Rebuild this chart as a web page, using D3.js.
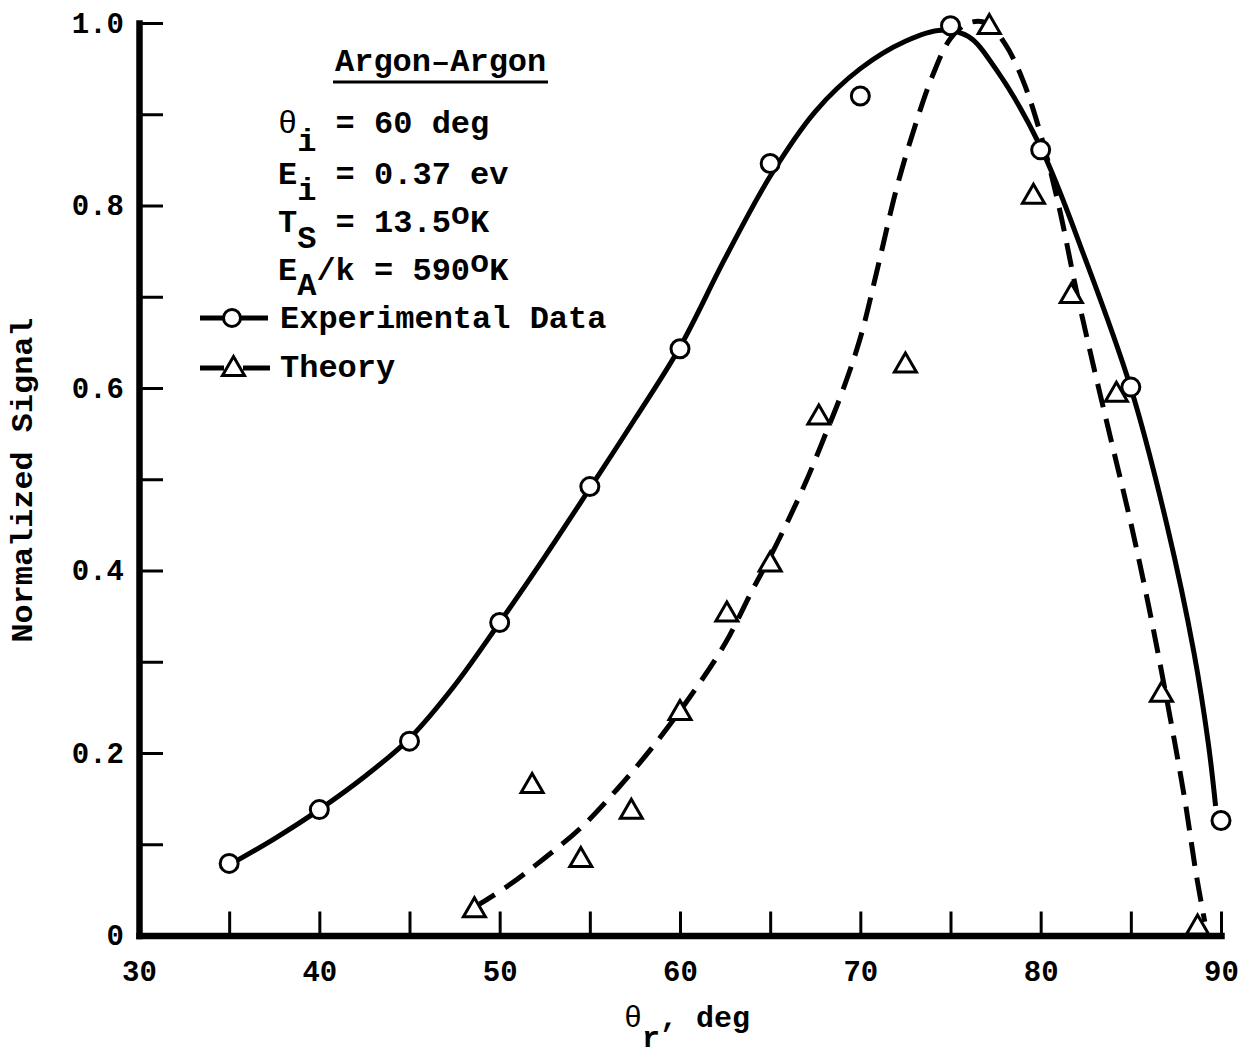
<!DOCTYPE html>
<html><head><meta charset="utf-8">
<script src="https://cdn.jsdelivr.net/npm/d3@7"></script>
<style>body{margin:0;background:#fff}svg{display:block}</style>
</head><body>
<svg id="c" width="1258" height="1056"></svg>
<script>
// ---- data ----
const expTheta  = [35, 40, 45, 50, 55, 60, 65, 70, 75, 80, 85, 90];
const expSignal = [0.079, 0.138, 0.213, 0.343, 0.492, 0.643, 0.846, 0.920, 0.997, 0.861, 0.601, 0.126];

const thTheta  = [48.6, 51.8, 54.5, 57.3, 60.0, 62.6, 65.0, 67.7, 72.5, 77.15, 79.6, 81.7, 84.2, 86.7, 88.7];
const thSignal = [0.031, 0.167, 0.086, 0.139, 0.247, 0.355, 0.410, 0.571, 0.628, 0.999, 0.813, 0.704, 0.596, 0.267, 0.012];

// hand-drawn fitted curve through the experimental data (solid)
const solidTheta  = [35.15, 37.5, 40, 42.5, 45, 47.5, 50, 52.5, 55, 57.5, 60, 62.5, 65, 67.5, 70, 72.5, 74.5, 76, 77.5, 80, 82.5, 85, 87, 88.5, 89.3, 89.7];
const solidSignal = [0.079, 0.106, 0.138, 0.174, 0.216, 0.274, 0.343, 0.415, 0.490, 0.566, 0.645, 0.742, 0.832, 0.903, 0.950, 0.980, 0.992, 0.985, 0.950, 0.864, 0.740, 0.600, 0.450, 0.310, 0.210, 0.142];

// hand-drawn theory curve (dashed)
const dashTheta  = [48.6, 50.5, 52.5, 54.5, 56.5, 58.5, 60.5, 62.5, 64, 65, 66, 67, 68, 69, 70, 71, 72, 73, 74, 75, 76, 77, 78, 79, 80, 81, 82, 83, 84, 85, 86, 87, 88, 88.6, 89.1];
const dashSignal = [0.031, 0.055, 0.085, 0.118, 0.160, 0.207, 0.260, 0.320, 0.378, 0.415, 0.455, 0.498, 0.546, 0.596, 0.655, 0.735, 0.818, 0.885, 0.942, 0.983, 1.000, 1.000, 0.978, 0.938, 0.878, 0.800, 0.705, 0.618, 0.535, 0.452, 0.360, 0.258, 0.148, 0.070, 0.015];

const xTicks = [30, 35, 40, 45, 50, 55, 60, 65, 70, 75, 80, 85, 90];
const xTickLabels = ["30", "", "40", "", "50", "", "60", "", "70", "", "80", "", "90"];
const yTicks = [0, 0.1, 0.2, 0.3, 0.4, 0.5, 0.6, 0.7, 0.8, 0.9, 1.0];
const yTickLabels = ["0", "", "0.2", "", "0.4", "", "0.6", "", "0.8", "", "1.0"];

// ---- drawing ----
const FONT = "'Liberation Mono','Courier New',monospace";
const svg = d3.select('#c');
svg.append('rect').attr('width', 1258).attr('height', 1056).attr('fill', '#fff');

const x = d3.scaleLinear().domain([30, 90]).range([139, 1221]);
const y = d3.scaleLinear().domain([0, 1]).range([935.5, 23]);

// y axis
const gy = svg.append('g').attr('transform', `translate(${x(30)},0)`)
  .call(d3.axisLeft(y).tickValues(yTicks).tickSize(-24).tickSizeOuter(0).tickPadding(15)
    .tickFormat((d, i) => yTickLabels[i]));
gy.select('.domain').attr('stroke', '#000').attr('stroke-width', 6.5).attr('stroke-linecap', 'square');
gy.selectAll('.tick line').attr('stroke', '#000').attr('stroke-width', 3);
gy.selectAll('.tick text').attr('font-family', FONT).attr('font-weight', 'bold')
  .attr('font-size', 29).attr('fill', '#000');

// x axis
const gx = svg.append('g').attr('transform', `translate(0,${y(0)})`)
  .call(d3.axisBottom(x).tickValues(xTicks).tickSize(-24).tickSizeOuter(0).tickPadding(25)
    .tickFormat((d, i) => xTickLabels[i]));
gx.select('.domain').attr('stroke', '#000').attr('stroke-width', 6.5).attr('stroke-linecap', 'square');
gx.selectAll('.tick line').attr('stroke', '#000').attr('stroke-width', 3);
gx.selectAll('.tick text').attr('font-family', FONT).attr('font-weight', 'bold')
  .attr('font-size', 29).attr('fill', '#000');

// axis titles
svg.append('text')
  .attr('transform', `translate(32,480) rotate(-90)`)
  .attr('text-anchor', 'middle')
  .attr('font-family', FONT).attr('font-weight', 'bold').attr('font-size', 30)
  .attr('textLength', 325).attr('lengthAdjust', 'spacingAndGlyphs')
  .text('Normalized Signal');

const xt = svg.append('text').attr('x', 624).attr('y', 1027)
  .attr('font-family', FONT).attr('font-weight', 'bold').attr('font-size', 30);
xt.append('tspan').attr('font-weight', 'normal').text('θ');
xt.append('tspan').attr('dy', 20).text('r');
xt.append('tspan').attr('dy', -20).text(', deg');

// curves
const lineGen = d3.line().x(d => x(d[0])).y(d => y(d[1])).curve(d3.curveCatmullRom.alpha(0.5));
const solidPts = solidTheta.map((t, i) => [t, solidSignal[i]]);
const dashPts = dashTheta.map((t, i) => [t, dashSignal[i]]);

svg.append('path').attr('d', lineGen(dashPts)).attr('fill', 'none')
  .attr('stroke', '#000').attr('stroke-width', 5).attr('stroke-dasharray', '24,12');
svg.append('path').attr('d', lineGen(solidPts)).attr('fill', 'none')
  .attr('stroke', '#000').attr('stroke-width', 5);

// markers
const triPath = (cx, cy) => `M${cx},${cy - 9.5}L${cx + 11},${cy + 9.5}L${cx - 11},${cy + 9.5}Z`;
svg.append('g').selectAll('path').data(thTheta.map((t, i) => [t, thSignal[i]])).join('path')
  .attr('d', d => triPath(x(d[0]), y(d[1])))
  .attr('fill', '#fff').attr('stroke', '#000').attr('stroke-width', 3).attr('stroke-linejoin', 'miter');
svg.append('g').selectAll('circle').data(expTheta.map((t, i) => [t, expSignal[i]])).join('circle')
  .attr('cx', d => x(d[0])).attr('cy', d => y(d[1])).attr('r', 9)
  .attr('fill', '#fff').attr('stroke', '#000').attr('stroke-width', 3);

// annotation block
const ann = svg.append('g').attr('font-family', FONT).attr('font-weight', 'bold')
  .attr('font-size', 32).attr('fill', '#000');
ann.append('text').attr('x', 335).attr('y', 71).text('Argon–Argon');
ann.append('line').attr('x1', 333).attr('x2', 548).attr('y1', 82).attr('y2', 82)
  .attr('stroke', '#000').attr('stroke-width', 3);

function annLine(yb, parts) {
  const t = ann.append('text').attr('x', 278).attr('y', yb);
  let cur = 0;
  parts.forEach(p => {
    const dy = p.s - cur; cur = p.s;
    const ts = t.append('tspan').text(p.t);
    if (dy) ts.attr('dy', dy);
    if (p.n) ts.attr('font-weight', 'normal');
  });
}
annLine(133, [{t: 'θ', s: 0, n: 1}, {t: 'i', s: 18}, {t: ' = 60 deg', s: 0}]);
annLine(184, [{t: 'E', s: 0}, {t: 'i', s: 16}, {t: ' = 0.37 ev', s: 0}]);
annLine(232, [{t: 'T', s: 0}, {t: 'S', s: 16}, {t: ' = 13.5', s: 0}, {t: 'o', s: -8}, {t: 'K', s: 0}]);
annLine(280, [{t: 'E', s: 0}, {t: 'A', s: 15}, {t: '/k = 590', s: 0}, {t: 'o', s: -8}, {t: 'K', s: 0}]);

// legend
const leg = svg.append('g');
leg.append('line').attr('x1', 200).attr('x2', 268).attr('y1', 318).attr('y2', 318)
  .attr('stroke', '#000').attr('stroke-width', 5);
leg.append('circle').attr('cx', 232).attr('cy', 318).attr('r', 8.5)
  .attr('fill', '#fff').attr('stroke', '#000').attr('stroke-width', 3);
ann.append('text').attr('x', 280).attr('y', 328).text('Experimental Data');

leg.append('line').attr('x1', 200).attr('x2', 224).attr('y1', 368).attr('y2', 368)
  .attr('stroke', '#000').attr('stroke-width', 5);
leg.append('line').attr('x1', 243).attr('x2', 270).attr('y1', 368).attr('y2', 368)
  .attr('stroke', '#000').attr('stroke-width', 5);
leg.append('path').attr('d', triPath(233.5, 366))
  .attr('fill', '#fff').attr('stroke', '#000').attr('stroke-width', 3);
ann.append('text').attr('x', 280).attr('y', 377).text('Theory');
</script>
</body></html>
